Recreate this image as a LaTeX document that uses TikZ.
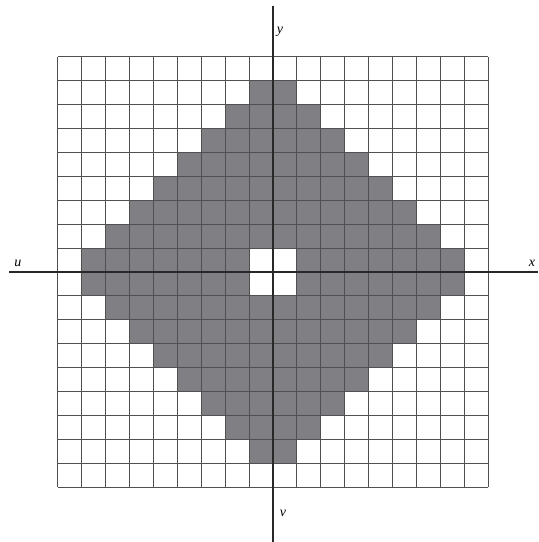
\documentclass[tikz,border=0pt]{standalone}
\usepackage{fontspec}
\setmainfont{Liberation Serif}
\begin{document}
\begin{tikzpicture}[x=23.9pt,y=23.9pt,
  cellfill/.style={fill={rgb,255:red,128;green,128;blue,132}},
  gridline/.style={draw={rgb,255:red,80;green,80;blue,80},line width=0.9pt},
  axisline/.style={draw={rgb,255:red,40;green,40;blue,40},line width=1.2pt},
  axlabel/.style={inner sep=0pt,font=\fontsize{14}{16}\selectfont\itshape}]
\useasboundingbox[fill=white] (-11.423,-11.297) rectangle (11.088,11.381);
\foreach \i in {-9,...,8}{\foreach \j in {-9,...,8}{
  \pgfmathsetmacro\sdist{abs(\i+0.5)+abs(\j+0.5)}
  \ifdim\sdist pt<1.5pt\else\ifdim\sdist pt>8.5pt\else
    \fill[cellfill] (\i,\j) rectangle ++(1,1);
  \fi\fi
}}
\draw[gridline,step=1] (-9,-9) grid (9,9);
\coordinate (ul) at (-11.05,0);
\coordinate (xr) at (11.088,0);
\coordinate (yt) at (0,11.13);
\coordinate (vb) at (0,-11.297);
\draw[axisline] (ul) -- (xr);
\draw[axisline] (yt) -- (vb);
\node[axlabel] (u) at (-10.67,0.36) {u};
\node[axlabel] (x) at (10.84,0.38) {x};
\node[axlabel] (y) at (0.29,10.04) {y};
\node[axlabel] (v) at (0.42,-10.08) {v};
\end{tikzpicture}
\end{document}
